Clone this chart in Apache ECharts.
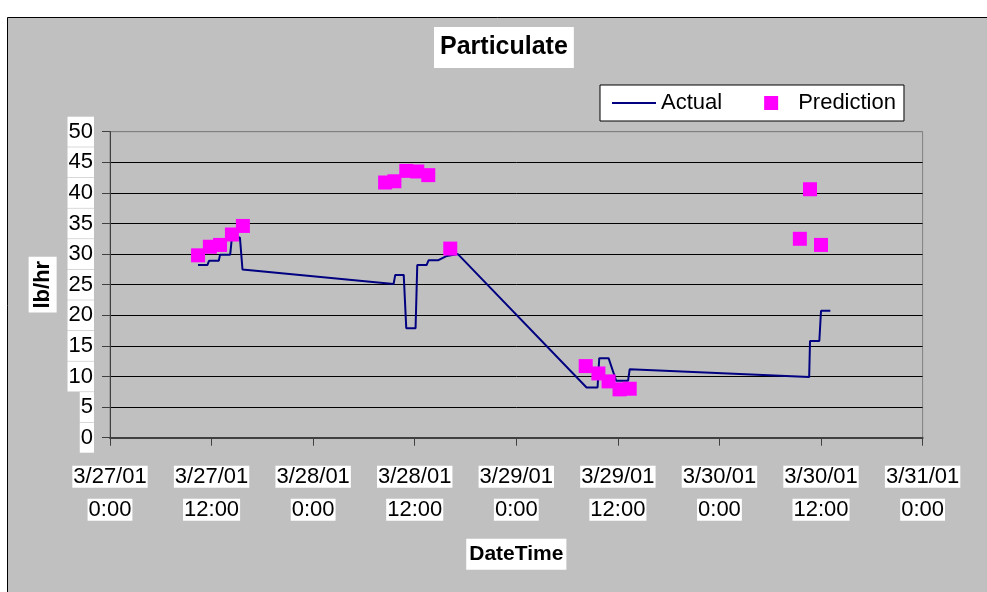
<!DOCTYPE html>
<html>
<head>
<meta charset="utf-8">
<script src="https://cdn.jsdelivr.net/npm/echarts@6/dist/echarts.min.js"></script>
<style>
html,body{margin:0;padding:0;background:#fff;}
#chart{width:987px;height:592px;}
</style>
</head>
<body>
<div id="chart"></div>
<script>
// ---- data ----
const actualTimes = [
  "3/27/01 10:24","3/27/01 11:30","3/27/01 11:42","3/27/01 12:51","3/27/01 13:00",
  "3/27/01 14:12","3/27/01 14:24","3/27/01 15:21","3/27/01 15:39",
  "3/28/01 9:30","3/28/01 9:42","3/28/01 10:42","3/28/01 11:00","3/28/01 12:06",
  "3/28/01 12:18","3/28/01 13:24","3/28/01 13:39","3/28/01 14:48","3/28/01 15:48",
  "3/28/01 17:06",
  "3/29/01 8:18","3/29/01 9:36","3/29/01 9:48","3/29/01 10:54","3/29/01 11:48",
  "3/29/01 13:12","3/29/01 13:24",
  "3/30/01 10:36","3/30/01 10:42","3/30/01 11:48","3/30/01 12:00","3/30/01 13:06"
];
const actualValues = [
  28.2, 28.2, 28.9, 28.9, 29.9,
  29.9, 32.7, 32.7, 27.5,
  25.1, 26.6, 26.6, 17.9, 17.9,
  28.2, 28.2, 29.0, 29.0, 29.7,
  30.0,
  8.2, 8.2, 13.0, 13.0, 9.3,
  9.3, 11.2,
  9.9, 15.8, 15.8, 20.75, 20.75
];
const predictionTimes = [
  "3/27/01 10:24","3/27/01 11:48","3/27/01 13:00","3/27/01 14:24","3/27/01 15:42",
  "3/28/01 8:30","3/28/01 9:36","3/28/01 11:00","3/28/01 12:18","3/28/01 13:36","3/28/01 16:12",
  "3/29/01 8:12","3/29/01 9:42","3/29/01 10:54","3/29/01 12:12","3/29/01 13:24",
  "3/30/01 9:30","3/30/01 10:42","3/30/01 12:00"
];
const predictionValues = [
  29.8, 31.2, 31.5, 33.2, 34.6,
  41.7, 41.9, 43.6, 43.5, 42.9, 30.9,
  11.7, 10.5, 9.2, 7.9, 8.0,
  32.5, 40.6, 31.5
];
const xStart = "3/27/01 0:00";
const xEnd = "3/31/01 0:00";
const xStepHours = 12;
const yTicks = [0, 5, 10, 15, 20, 25, 30, 35, 40, 45, 50];

// ---- helpers ----
function parseDT(s) {
  const [d, t] = s.split(" ");
  const [m, day, yy] = d.split("/").map(Number);
  const [h, mi] = t.split(":").map(Number);
  return Date.UTC(2000 + yy, m - 1, day, h, mi);
}
function fmtDT(ms) {
  const dt = new Date(ms);
  const d = (dt.getUTCMonth() + 1) + "/" + dt.getUTCDate() + "/" +
    String(dt.getUTCFullYear() % 100).padStart(2, "0");
  const t = dt.getUTCHours() + ":" + String(dt.getUTCMinutes()).padStart(2, "0");
  return "{a|" + d + "}\n{s|}\n{a|" + t + "}";
}
const actualData = actualTimes.map((t, i) => [parseDT(t), actualValues[i]]);
const predData = predictionTimes.map((t, i) => [parseDT(t), predictionValues[i]]);

const FONT = "Liberation Sans";
const gridColors = yTicks.map((v, i) => i === yTicks.length - 1 ? "#808080" : "#000000");

const chart = echarts.init(document.getElementById("chart"), null, {renderer: "canvas"});
chart.setOption({
  backgroundColor: "#ffffff",
  animation: false,
  graphic: [{
    type: "rect",
    z: -10,
    silent: true,
    shape: {x: 7.5, y: 17.5, width: 1000, height: 600},
    style: {fill: "#c0c0c0", stroke: "#000000", lineWidth: 1}
  }],
  title: {
    text: "Particulate",
    left: 434,
    top: 27,
    padding: [8, 6],
    backgroundColor: "#ffffff",
    textStyle: {fontFamily: FONT, fontSize: 25, fontWeight: "bold", color: "#000", lineHeight: 25}
  },
  legend: {
    left: 600,
    top: 85,
    orient: "horizontal",
    backgroundColor: "#ffffff",
    borderColor: "#000000",
    borderWidth: 1,
    borderRadius: 0,
    padding: [7, 8, 7, 12],
    itemWidth: 44,
    itemHeight: 14,
    itemGap: 42,
    symbolKeepAspect: true,
    textStyle: {fontFamily: FONT, fontSize: 22, color: "#000"},
    data: [
      {name: "Actual", icon: "path://M0,0h44v2h-44z"},
      {name: "Prediction", icon: "path://M0,0h14v14h-14z"}
    ]
  },
  grid: {
    left: 110,
    top: 131.7,
    right: 64.4,
    bottom: 154.3,
    show: true,
    borderColor: "#808080",
    borderWidth: 1,
    backgroundColor: "transparent",
    containLabel: false
  },
  xAxis: {
    type: "value",
    min: parseDT(xStart),
    max: parseDT(xEnd),
    interval: xStepHours * 3600 * 1000,
    name: "DateTime",
    nameLocation: "middle",
    nameGap: 101,
    nameTextStyle: {
      fontFamily: FONT, fontSize: 21, fontWeight: "bold", color: "#000",
      backgroundColor: "#ffffff", padding: [4, 3], lineHeight: 23
    },
    axisLine: {show: true, onZero: false, lineStyle: {color: "#404040", width: 2}},
    axisTick: {show: true, inside: false, length: 8, lineStyle: {color: "#404040", width: 1}},
    splitLine: {show: false},
    axisLabel: {
      margin: 24,
      formatter: fmtDT,
      rich: {
        a: {fontFamily: FONT, fontSize: 22, color: "#000", backgroundColor: "#ffffff",
            lineHeight: 30, padding: [0, 1]},
        s: {fontSize: 1, lineHeight: 3}
      }
    }
  },
  yAxis: {
    type: "value",
    min: 0,
    max: 50,
    interval: 5,
    name: "lb/hr",
    nameLocation: "middle",
    nameGap: 51,
    nameRotate: 90,
    nameTextStyle: {
      fontFamily: FONT, fontSize: 22, fontWeight: "bold", color: "#000",
      backgroundColor: "#ffffff", padding: [3, 4], lineHeight: 22
    },
    axisLine: {show: true, lineStyle: {color: "#404040", width: 1}},
    axisTick: {show: true, inside: false, length: 8, lineStyle: {color: "#404040", width: 1}},
    splitLine: {show: true, lineStyle: {color: gridColors, width: 1}},
    axisLabel: {
      margin: 16,
      fontFamily: FONT, fontSize: 22, color: "#000",
      backgroundColor: "#ffffff",
      padding: [2, 1],
      lineHeight: 26
    }
  },
  series: [
    {
      name: "Actual",
      type: "line",
      data: actualData,
      symbol: "none",
      showSymbol: false,
      lineStyle: {color: "#000080", width: 2},
      itemStyle: {color: "#000080"},
      z: 2
    },
    {
      name: "Prediction",
      type: "scatter",
      data: predData,
      symbol: "rect",
      symbolSize: 14,
      itemStyle: {color: "#ff00ff", opacity: 1},
      z: 3
    }
  ]
});
</script>
</body>
</html>
